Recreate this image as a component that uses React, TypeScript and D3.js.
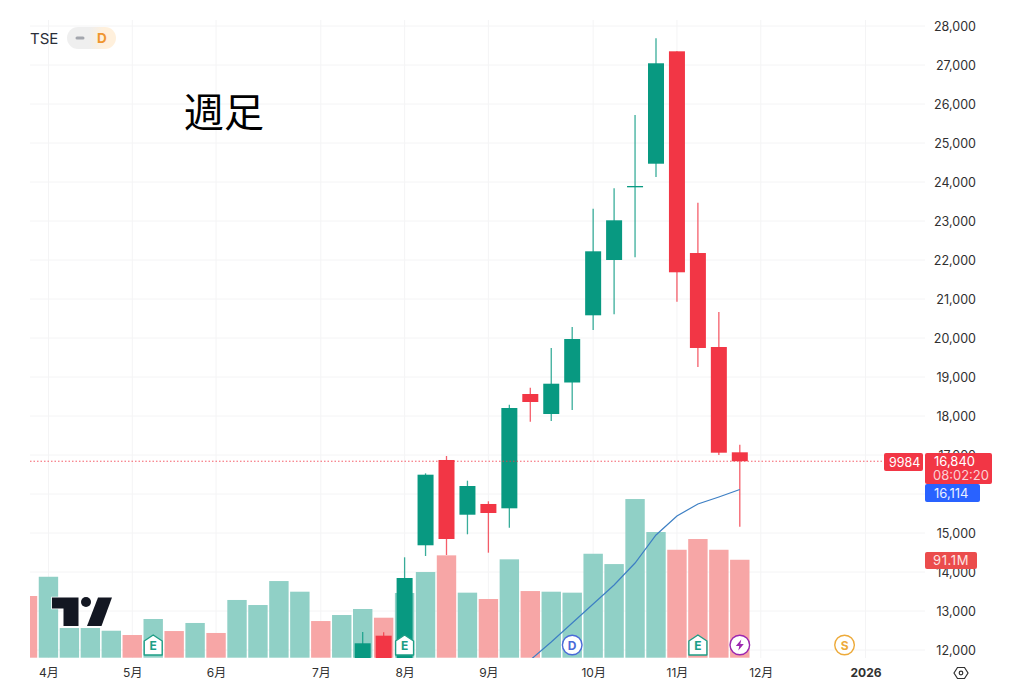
import { useRef, useEffect } from "react";
import * as d3 from "d3";

// Weekly bars, index 0 is the clipped bar at the left edge, 34 the current week
const VOLUMES = [
  57.4, 75.3, 27.6, 27.6, 25.1, 21.1, 36, 24.8, 32.3, 23, 53.7, 49, 71.3, 61.4, 34.1, 39.7, 45.3, 37.2,
  60.2, 79.7, 95.2, 60.5, 54.6, 91.5, 62, 61.4, 60.5, 96.7, 87.1, 147.6, 116.9, 100.4, 110.4, 100.4, 91.1,
];
const VOLUME_UP = [
  false, true, true, true, true, false, true, false, true, false, true, true, true, true, false, true, true, false,
  true, true, false, true, false, true, false, true, true, true, true, true, true, false, false, false, false,
];

// Candles start at week 16, everything earlier is below the visible price range
const CANDLE_START = 16;
const OPENS = [
  11600, 12367, 11600, 14685, 16872, 15469, 15744, 15633, 18564, 18051, 18859, 20582, 22000, 23864, 24469, 27351,
  22179, 19769, 17069,
];
const CLOSES = [
  12172, 11500, 13846, 16495, 14846, 16205, 15513, 18205, 18359, 18828, 19974, 22223, 23018, 23897, 27044, 21685,
  19744, 17059, 16840,
];
const HIGHS = [
  12462, 12454, 14377, 16530, 16974, 16341, 15813, 18290, 18726, 19744, 20282, 23315, 23838, 25718, 27685, 27351,
  23469, 20667, 17264,
];
const LOWS = [
  11500, 11400, 11500, 14410, 14436, 14967, 14495, 15136, 17854, 17872, 18154, 20205, 20608, 22069, 24128, 20931,
  19256, 17000, 15162,
];

const MA_START = 24;
const MA_VALUES = [11744, 12205, 12692, 13179, 13667, 14231, 14949, 15436, 15744, 15923, 16114];

const GRID_TICKS = d3.range(12000, 28001, 1000);
// 16,000 sits fully behind the price tags, so it gets a grid line but no label
const PRICE_TICKS = GRID_TICKS.filter((d) => d !== 16000);
const TIME_TICKS = [1, 5, 9, 14, 18, 22, 27, 31, 35, 40];
const TIME_LABELS = ["4月", "5月", "6月", "7月", "8月", "9月", "10月", "11月", "12月", "2026"];

const EVENT_WEEKS = [6, 18, 26, 32, 34, 39];
const EVENT_KINDS = ["E", "E", "D", "E", "⚡", "S"];

const LAST_PRICE = 16840;
const LAST_MA = 16114;
const LAST_VOLUME = 91.1;

const GREEN = "#089981";
const RED = "#F23645";
const FONT = "Inter, 'Noto Sans CJK JP', sans-serif";

export default function App() {
  const svgRef = useRef<SVGSVGElement>(null);

  useEffect(() => {
    if (!svgRef.current) return;
    const svg = d3.select(svgRef.current);
    svg.selectAll("*").remove();

    const x = d3.scaleLinear().domain([0, 40]).range([27.5, 865.5]);
    const y = d3.scaleLinear().domain([12000, 28000]).range([650, 26]);
    const vol = d3.scaleLinear().domain([0, 100]).range([657.7, 550.2]);
    const plotBottom = 658;

    svg
      .append("defs")
      .append("clipPath")
      .attr("id", "plot")
      .append("rect")
      .attr("x", 30)
      .attr("y", 0)
      .attr("width", 890)
      .attr("height", plotBottom);

    const pill = svg.select("defs").append("linearGradient").attr("id", "pill");
    pill.append("stop").attr("offset", "45%").attr("stop-color", "#EFEFEF");
    pill.append("stop").attr("offset", "75%").attr("stop-color", "#FFF0DC");

    // Grid
    const grid = svg.append("g").attr("stroke", "#F4F4F5").attr("stroke-width", 1);
    grid
      .selectAll("line.h")
      .data(GRID_TICKS)
      .join("line")
      .attr("class", "h")
      .attr("x1", 30)
      .attr("x2", 925)
      .attr("y1", (d) => y(d))
      .attr("y2", (d) => y(d));
    grid
      .selectAll("line.v")
      .data(TIME_TICKS)
      .join("line")
      .attr("class", "v")
      .attr("x1", (d) => x(d))
      .attr("x2", (d) => x(d))
      .attr("y1", 20)
      .attr("y2", plotBottom);

    const plot = svg.append("g").attr("clip-path", "url(#plot)");

    // Volume
    const barW = 19.4;
    plot
      .selectAll("rect.vol")
      .data(VOLUMES)
      .join("rect")
      .attr("class", "vol")
      .attr("x", (_, i) => x(i) - barW / 2)
      .attr("y", (d) => vol(d))
      .attr("width", barW)
      .attr("height", (d) => vol(0) - vol(d))
      .attr("fill", (_, i) => (VOLUME_UP[i] ? "#90D0C6" : "#F7A6A6"));

    // Candles
    const candles = OPENS.map((open, i) => ({
      week: CANDLE_START + i,
      open,
      close: CLOSES[i],
      high: HIGHS[i],
      low: LOWS[i],
    }));
    const bodyW = 16;
    const colorOf = (d: { open: number; close: number }) => (d.close >= d.open ? GREEN : RED);

    plot
      .selectAll("line.wick")
      .data(candles)
      .join("line")
      .attr("class", "wick")
      .attr("x1", (d) => x(d.week))
      .attr("x2", (d) => x(d.week))
      .attr("y1", (d) => y(d.high))
      .attr("y2", (d) => y(d.low))
      .attr("stroke", colorOf)
      .attr("stroke-opacity", 0.8)
      .attr("stroke-width", 1.3);
    plot
      .selectAll("rect.body")
      .data(candles)
      .join("rect")
      .attr("class", "body")
      .attr("x", (d) => x(d.week) - bodyW / 2)
      .attr("y", (d) => y(Math.max(d.open, d.close)))
      .attr("width", bodyW)
      .attr("height", (d) => Math.max(1, Math.abs(y(d.open) - y(d.close))))
      .attr("fill", colorOf);

    // Moving average
    const line = d3
      .line<number>()
      .x((_, i) => x(MA_START + i))
      .y((d) => y(d));
    plot
      .append("path")
      .attr("d", line(MA_VALUES))
      .attr("fill", "none")
      .attr("stroke", "#3D7FC4")
      .attr("stroke-width", 1.2);

    // Last price line
    svg
      .append("line")
      .attr("x1", 30)
      .attr("x2", 884)
      .attr("y1", y(LAST_PRICE))
      .attr("y2", y(LAST_PRICE))
      .attr("stroke", RED)
      .attr("stroke-opacity", 0.8)
      .attr("stroke-dasharray", "1.5 2");

    // Logo
    const logo = svg.append("g").attr("fill", "#131722").attr("stroke", "#fff").attr("stroke-width", 1.5).attr("paint-order", "stroke");
    logo.append("path").attr("d", "M52 597.5H78.5V626H63.5V608.5H52Z");
    logo.append("circle").attr("cx", 86).attr("cy", 602).attr("r", 5);
    logo.append("path").attr("d", "M98 597.5H112L101.5 626H87Z");

    // Event markers
    const eventColor: Record<string, string> = { E: "#1E9E86", D: "#4A6BD8", "⚡": "#9C27B0", S: "#EDAA3A" };
    const events = EVENT_WEEKS.map((week, i) => ({ week, kind: EVENT_KINDS[i] }));
    const marker = svg
      .append("g")
      .selectAll("g")
      .data(events)
      .join("g")
      .attr("transform", (d) => `translate(${x(d.week)},645)`);
    marker
      .filter((d) => d.kind === "E")
      .append("path")
      .attr("d", "M-9 -4L0 -10L9 -4V10H-9Z")
      .attr("fill", "#fff")
      .attr("stroke", (d) => eventColor[d.kind])
      .attr("stroke-width", 1.4)
      .attr("stroke-linejoin", "round");
    marker
      .filter((d) => d.kind !== "E")
      .append("circle")
      .attr("r", 9.8)
      .attr("fill", "#fff")
      .attr("stroke", (d) => eventColor[d.kind])
      .attr("stroke-width", 1.4);
    marker
      .filter((d) => d.kind !== "⚡")
      .append("text")
      .attr("text-anchor", "middle")
      .attr("y", 4.5)
      .attr("font-family", FONT)
      .attr("font-size", 12)
      .attr("font-weight", 700)
      .attr("fill", (d) => eventColor[d.kind])
      .text((d) => d.kind);
    marker
      .filter((d) => d.kind === "⚡")
      .append("path")
      .attr("d", "M1.5 -5.5L-4 1H-0.5L-1.5 5.5L4 -1H0.5Z")
      .attr("fill", (d) => eventColor[d.kind]);

    // Price axis
    svg
      .append("g")
      .attr("transform", "translate(976,0)")
      .call(d3.axisRight(y).tickValues(PRICE_TICKS).tickSize(0).tickFormat(d3.format(",") as any))
      .call((axis) => {
        axis.select(".domain").remove();
        axis
          .selectAll(".tick text")
          .attr("x", 0)
          .attr("text-anchor", "end")
          .attr("fill", "#303030")
          .attr("font-family", FONT)
          .attr("font-size", 12.5);
      });

    // Time axis
    svg
      .append("g")
      .attr("transform", "translate(0,661)")
      .call(
        d3
          .axisBottom(x)
          .tickValues(TIME_TICKS)
          .tickSize(0)
          .tickFormat((_, i) => TIME_LABELS[i]),
      )
      .call((axis) => {
        axis.select(".domain").remove();
        axis
          .selectAll(".tick text")
          .attr("y", 7)
          .attr("fill", "#303030")
          .attr("font-family", FONT)
          .attr("font-size", 12)
          .attr("font-weight", (_, i) => (TIME_LABELS[i] === "2026" ? 700 : 400));
      });

    // Value tags
    const tag = (tx: number, ty: number, w: number, h: number, fill: string) =>
      svg.append("rect").attr("x", tx).attr("y", ty).attr("width", w).attr("height", h).attr("rx", 2).attr("fill", fill);
    const label = (tx: number, ty: number, text: string, fill = "#fff", size = 13) =>
      svg
        .append("text")
        .attr("x", tx)
        .attr("y", ty)
        .attr("fill", fill)
        .attr("font-family", FONT)
        .attr("font-size", size)
        .text(text);

    tag(884, 453, 39, 18, RED);
    label(889, 466.5, "9984", "#fff", 12.5);
    tag(925, 453, 67, 31, RED);
    label(934, 466, d3.format(",")(LAST_PRICE));
    label(933, 479.5, "08:02:20", "#FAD0D4");
    tag(925, 484, 55, 18, "#2962FF");
    label(934, 497.5, d3.format(",")(LAST_MA), "#EAF0FF");
    tag(925, 552, 52, 17, "#EB4C4C");
    label(933, 565, `${LAST_VOLUME}M`, "#FDE3E3").attr("letter-spacing", 0.6);

    // Settings icon
    const gear = svg.append("g").attr("transform", "translate(961,673)").attr("fill", "none").attr("stroke", "#303030");
    gear.append("path").attr("d", "M-7 0L-3.5 -5.5H3.5L7 0L3.5 5.5H-3.5Z").attr("stroke-width", 1.2);
    gear.append("circle").attr("r", 1.8).attr("stroke-width", 1.2);

    // Header
    label(30, 43.5, "TSE", "#2A2E39", 15);
    svg.append("rect").attr("x", 67).attr("y", 27).attr("width", 49).attr("height", 22).attr("rx", 11).attr("fill", "url(#pill)");
    svg.append("rect").attr("x", 75.5).attr("y", 36.5).attr("width", 9).attr("height", 3).attr("rx", 1.5).attr("fill", "#A3A6AD");
    label(97, 43, "D", "#F0962E", 13.5).attr("font-weight", 700);
    label(184, 127, "週足", "#000", 40).attr("font-family", "'Noto Sans CJK JP', sans-serif");
  }, []);

  return (
    <svg
      ref={svgRef}
      width={1024}
      height={687}
      role="img"
      aria-label="TSE 9984 weekly candlestick chart with volume"
      style={{ position: "absolute", left: 0, top: 0, display: "block", background: "#fff" }}
    />
  );
}
